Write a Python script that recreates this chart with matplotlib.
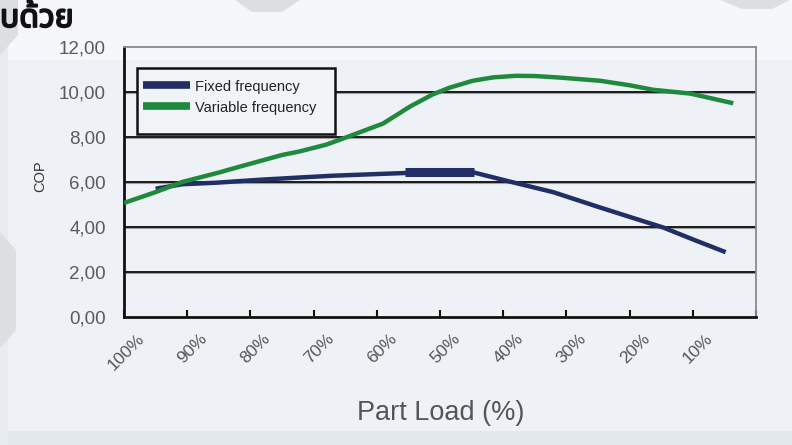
import matplotlib
matplotlib.use("Agg")
import matplotlib.pyplot as plt
import matplotlib.patheffects as pe
from matplotlib.transforms import ScaledTranslation
from matplotlib.patches import Polygon, Rectangle

# ---- data ----
categories = ["100%", "90%", "80%", "70%", "60%", "50%", "40%", "30%", "20%", "10%"]
category_pos = [100, 90, 80, 70, 60, 50, 40, 30, 20, 10]
y_ticks = [0, 2, 4, 6, 8, 10, 12]
y_tick_labels = ["0,00", "2,00", "4,00", "6,00", "8,00", "10,00", "12,00"]

variable_load = [105, 100, 95.8, 90, 86.6, 80, 77.2, 73, 69.2, 64.0, 59.7, 56.1, 53.4, 49.8,
                 46.6, 43.0, 40.0, 36.0, 29.7, 25, 21.3, 15.4, 8.6]
variable_cop = [5.07, 5.55, 6.0, 6.42, 6.69, 7.2, 7.36, 7.66, 8.05, 8.6, 9.36, 9.9, 10.2, 10.5,
                10.65, 10.72, 10.71, 10.64, 10.5, 10.3, 10.1, 9.93, 9.5]

fixed_load = [100, 95.8, 90.3, 83.5, 77.2, 71.9, 60.5, 49.6, 44.4, 37.1, 29.7, 25, 19.7, 15, 9.8]
fixed_cop = [5.7, 5.9, 5.97, 6.1, 6.2, 6.28, 6.4, 6.42, 6.05, 5.55, 4.87, 4.45, 3.98, 3.45, 2.88]

highlight_load = [60.5, 49.6]
highlight_cop = [6.45, 6.45]

# ---- figure ----
W, H, DPI = 792, 445, 100
fig = plt.figure(figsize=(W / DPI, H / DPI), dpi=DPI)
fig.patch.set_facecolor("#eef2f6")

# background decorations
fig.patches.append(Rectangle((0, 1 - 60 / H), 1, 60 / H, transform=fig.transFigure,
                             facecolor="#f5f7fa", edgecolor="none", zorder=-5))
fig.patches.append(Rectangle((0, 0), 1, 14 / H, transform=fig.transFigure,
                             facecolor="#e3e8ec", edgecolor="none", zorder=-4))
fig.patches.append(Rectangle((0, 0), 8 / W, 1, transform=fig.transFigure,
                             facecolor="#e8ecf0", edgecolor="none", zorder=-4))
for poly in ([(0, 232), (16, 250), (16, 330), (0, 348)],
             [(0, 0), (18, 0), (18, 35), (0, 55)],
             [(235, 0), (300, 0), (282, 12), (252, 12)],
             [(720, 0), (790, 0), (772, 9), (742, 9)]):
    pts = [(px / W, 1 - py / H) for px, py in poly]
    fig.patches.append(Polygon(pts, closed=True, transform=fig.transFigure,
                               facecolor="#dcdfe2", edgecolor="none", zorder=-3))

L, R, T, B = 124, 756, 47, 317
ax = fig.add_axes([L / W, 1 - B / H, (R - L) / W, (B - T) / H])
ax.set_facecolor("none")

ax.set_xlim(105, 5)
ax.set_ylim(0, 12)

blue = "#212f66"
green = "#1f8a3e"

ax.plot(fixed_load, fixed_cop, color=blue, lw=3.2, solid_capstyle="butt",
        solid_joinstyle="round", label="Fixed frequency", zorder=4)
ax.plot(highlight_load, highlight_cop, color=blue, lw=6.5, solid_capstyle="butt", zorder=4)
ax.plot(variable_load, variable_cop, color=green, lw=3.2, solid_capstyle="butt",
        solid_joinstyle="round", label="Variable frequency", zorder=5)

# gridlines
ax.set_yticks(y_ticks)
ax.set_yticklabels(y_tick_labels)
for y in y_ticks[1:-1]:
    ax.axhline(y, color="#1a1a1a", lw=1.4, zorder=2)
    ax.axhline(y - 0.06, color="#a0a0a0", lw=0.8, zorder=1.9)

# x ticks: marks at category boundaries, labels at centers
ax.set_xticks([105 - 10 * i for i in range(11)], minor=True)
ax.set_xticks(category_pos)
ax.set_xticklabels(categories, rotation=45, ha="right", va="center",
                   rotation_mode="anchor", fontsize=12.5, color="#555555",
                   family="Liberation Sans")
ax.tick_params(axis="x", which="major", length=0, pad=14)
ax.tick_params(axis="x", which="minor", direction="in", length=5, width=1.5, color="#111111")
ax.tick_params(axis="y", length=0, pad=13, labelsize=13.5, labelcolor="#5a5a5a")
for lab in ax.get_yticklabels():
    lab.set_family("Liberation Sans")
off = ScaledTranslation(-14 / DPI, 0, fig.dpi_scale_trans)
for lab in ax.get_xticklabels():
    lab.set_transform(lab.get_transform() + off)

# spines
for s in ("left", "bottom"):
    ax.spines[s].set_color("#111111")
    ax.spines[s].set_linewidth(2)
for s in ("top", "right"):
    ax.spines[s].set_color("#8a8a8a")
    ax.spines[s].set_linewidth(1.3)

ax.set_ylabel("COP", fontsize=10.5, color="#333333", family="Liberation Sans")
ax.yaxis.set_label_coords((47 - L) / (R - L), (B - 176) / (B - T))
fig.text(441 / W, 1 - 413 / H, "Part Load (%)", ha="center", va="center",
         fontsize=19.5, color="#555555", family="Liberation Sans")

# legend: box drawn as a rectangle, entries via ax.legend without frame
def ax_x(px):
    return (px - L) / (R - L)

def ax_y(py):
    return (B - py) / (B - T)

box = Rectangle((ax_x(137), ax_y(134)), ax_x(335) - ax_x(137), ax_y(68) - ax_y(134),
                transform=ax.transAxes, facecolor="#f1f4f7", edgecolor="#111111",
                lw=1.8, zorder=8)
ax.add_patch(box)
leg = ax.legend(loc="upper left", bbox_to_anchor=(ax_x(143), ax_y(78.5)),
                frameon=False, prop={"family": "Liberation Sans", "size": 10.5},
                handlelength=3.2, handleheight=1.3, handletextpad=0.34,
                borderpad=0, labelspacing=0.34, borderaxespad=0)
for line in leg.get_lines():
    line.set_linewidth(5.5)
for t in leg.get_texts():
    t.set_color("#222222")
leg.set_zorder(10)

# Thai heading fragment at top left
fig.text(0 / W, 1 - 27 / H, "บด้วย", ha="left", va="baseline", fontsize=23,
         fontweight="bold", color="#111111",
         family=["Noto Sans Thai", "Noto Sans", "DejaVu Sans"],
         path_effects=[pe.withStroke(linewidth=1.3, foreground="#111111")])

fig.savefig("out.png", dpi=DPI, facecolor=fig.get_facecolor())
